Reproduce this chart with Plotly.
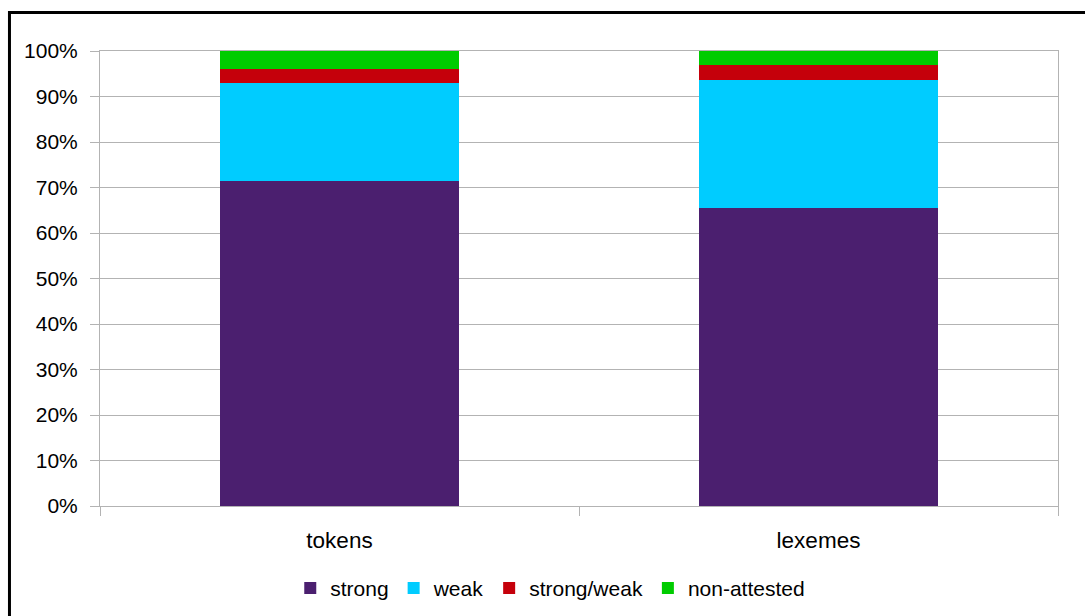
import plotly.graph_objects as go

categories = ["tokens", "lexemes"]
strong = [71.4, 65.5]
weak = [21.6, 28.1]
strong_weak = [3.0, 3.3]
non_attested = [4.0, 3.1]

series = [
    ("strong", strong, "#4b1f6f"),
    ("weak", weak, "#00ccff"),
    ("strong/weak", strong_weak, "#c5000b"),
    ("non-attested", non_attested, "#00cc00"),
]

fig = go.Figure()
for name, vals, color in series:
    fig.add_trace(go.Bar(
        x=categories, y=vals, name=name,
        marker=dict(color=color, line=dict(width=0)),
    ))

FAMILY = "Liberation Sans, Arial, sans-serif"
FONT = dict(family=FAMILY, size=21, color="#000000")
XFONT = dict(family=FAMILY, size=22.5, color="#000000")

fig.update_layout(
    width=1085, height=616,
    margin=dict(l=100, r=27, t=51, b=110, autoexpand=False),
    barmode="stack",
    bargap=0.5,
    paper_bgcolor="white",
    plot_bgcolor="white",
    font=FONT,
    showlegend=True,
    legend=dict(
        orientation="h", x=0.47, xanchor="center", y=-0.181, yanchor="middle",
        traceorder="normal", font=FONT, itemwidth=30,
    ),
    xaxis=dict(
        showline=True, linecolor="#b3b3b3", linewidth=1, mirror=True,
        ticks="outside", tickson="boundaries", ticklen=9, tickcolor="#b3b3b3",
        showgrid=False, tickfont=XFONT, automargin=False, ticklabelstandoff=14,
    ),
    yaxis=dict(
        range=[0, 100], dtick=10, ticksuffix="%",
        showline=True, linecolor="#b3b3b3", linewidth=1, mirror=True,
        ticks="outside", ticklen=9, tickcolor="#b3b3b3",
        showgrid=True, gridcolor="#b3b3b3", gridwidth=1,
        zeroline=False, tickfont=FONT, automargin=False, ticklabelstandoff=8,
    ),
    shapes=[dict(
        type="rect", xref="paper", yref="paper",
        x0=-0.0945, x1=1.2, y0=-0.6, y1=1.0847,
        line=dict(color="black", width=3), fillcolor="rgba(0,0,0,0)",
    )],
)

fig.write_html("out.html")
